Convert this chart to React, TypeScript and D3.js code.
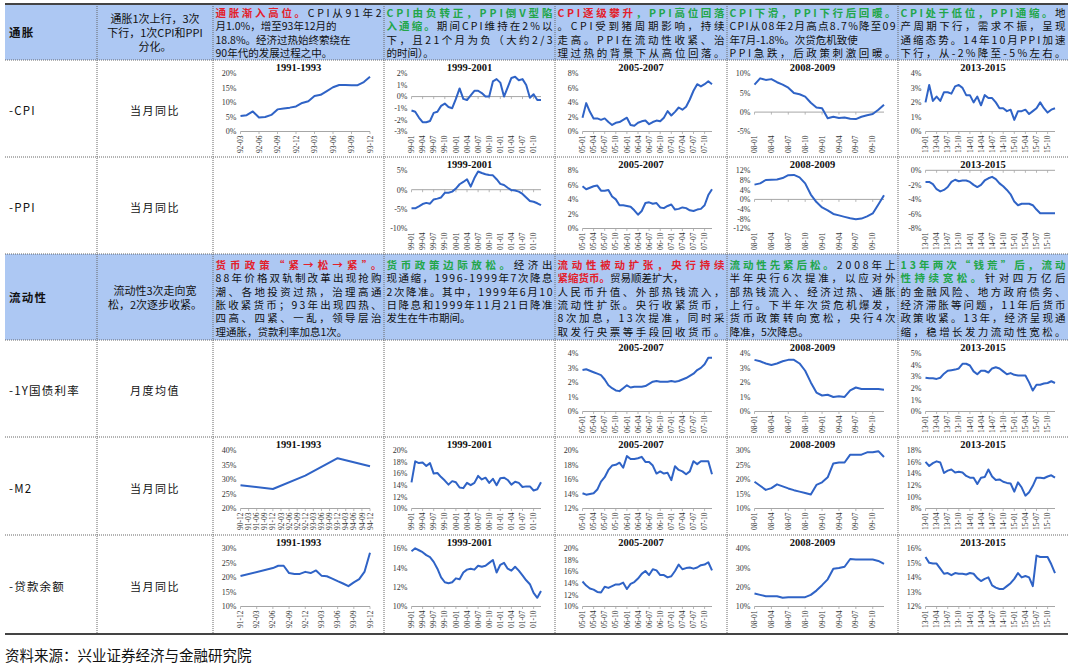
import React from "react";
import * as d3 from "d3";

const W = 1074, H = 666;
const COLS = [5, 97, 213, 384, 555, 727, 898, 1068];
const ROWS = [4, 60, 157, 254, 340, 437, 535, 634];
const BLUE = "#adc8f3";
const RED = "#e3202b";
const GRN = "#22a64a";
const BLK = "#111111";
const LINE = "#2f63c6";
const CJK = "'Noto Sans CJK SC', 'Noto Sans', sans-serif";
const SERIF = "'Liberation Serif', 'DejaVu Serif', serif";

const monthCats = (yy: number, mm: number, n: number, stepM = 1) => {
  const out: string[] = [];
  for (let i = 0; i < n; i++) {
    const t = yy * 12 + (mm - 1) + i * stepM;
    const y = Math.floor(t / 12) % 100, m = (t % 12) + 1;
    out.push(`${String(y).padStart(2, "0")}-${String(m).padStart(2, "0")}`);
  }
  return out;
};

// categories
const CAT_92 = monthCats(92, 3, 22);
const CAT_99 = monthCats(99, 1, 36);
const CAT_05 = monthCats(5, 1, 36);
const CAT_08 = monthCats(8, 1, 24);
const CAT_13 = monthCats(13, 1, 36);
const CAT_90Q = monthCats(90, 12, 17, 3);
const CAT_91 = monthCats(91, 12, 25);

// tick labels
const TK_92 = ["92-03", "92-06", "92-09", "92-12", "93-03", "93-06", "93-09", "93-12"];
const TK_99 = ["99-01", "99-04", "99-07", "99-10", "00-01", "00-04", "00-07", "00-10", "01-01", "01-04", "01-07", "01-10"];
const TK_05 = ["05-01", "05-04", "05-07", "05-10", "06-01", "06-04", "06-07", "06-10", "07-01", "07-04", "07-07", "07-10"];
const TK_08 = ["08-01", "08-04", "08-07", "08-10", "09-01", "09-04", "09-07", "09-10"];
const TK_13 = ["13-01", "13-04", "13-07", "13-10", "14-01", "14-04", "14-07", "14-10", "15-01", "15-04", "15-07", "15-10"];
const TK_90Q = ["90-12", "91-03", "91-06", "91-09", "91-12", "92-03", "92-06", "92-09", "92-12", "93-03", "93-06", "93-09", "93-12", "94-03", "94-06", "94-09", "94-12"];
const TK_91 = ["91-12", "92-03", "92-06", "92-09", "92-12", "93-03", "93-06", "93-09", "93-12"];

// CPI
const CPI_91 = [5.3, 5.6, 6.9, 4.8, 5.0, 5.7, 7.6, 7.9, 8.2, 8.6, 9.8, 10.4, 12.2, 12.6, 13.9, 15.2, 16.0, 16.0, 15.9, 15.9, 17.0, 18.8];
const CPI_99 = [-1.2, -1.3, -1.8, -2.2, -2.2, -2.1, -1.4, -1.3, -0.8, -0.6, -0.9, -1.0, -0.2, 0.7, -0.2, -0.3, 0.1, 0.5, 0.5, 0.3, 0.0, 0.0, 1.3, 1.5, 1.2, 0.0, 0.8, 1.6, 1.7, 1.4, 1.5, 1.0, -0.1, 0.2, -0.3, -0.3];
const CPI_05 = [1.9, 3.9, 2.7, 1.8, 1.8, 1.6, 1.8, 1.3, 0.9, 1.2, 1.3, 1.6, 1.9, 0.9, 0.8, 1.2, 1.4, 1.5, 1.0, 1.3, 1.5, 1.4, 1.9, 2.8, 2.2, 2.7, 3.3, 3.0, 3.4, 4.4, 5.6, 6.5, 6.2, 6.5, 6.9, 6.5];
const CPI_08 = [7.1, 8.7, 8.3, 8.5, 7.7, 7.1, 6.3, 4.9, 4.6, 4.0, 2.4, 1.2, 1.0, -1.6, -1.2, -1.5, -1.4, -1.7, -1.8, -1.2, -0.8, -0.5, 0.6, 1.9];
const CPI_13 = [2.0, 3.2, 2.1, 2.4, 2.1, 2.7, 2.7, 2.6, 3.1, 3.2, 3.0, 2.5, 2.5, 2.0, 2.4, 1.8, 2.5, 2.3, 2.3, 2.0, 1.6, 1.6, 1.4, 1.5, 0.8, 1.4, 1.4, 1.5, 1.2, 1.4, 1.6, 2.0, 1.6, 1.3, 1.5, 1.6];
// PPI
const PPI_99 = [-4.8, -4.8, -4.3, -3.7, -3.4, -3.6, -2.5, -2.3, -2.0, -0.8, -0.8, -0.5, 0.3, 1.4, 2.0, 2.7, 0.8, 3.0, 4.7, 4.3, 4.0, 3.8, 3.7, 2.7, 1.5, 1.2, 0.5, -0.1, -0.2, -0.5, -1.1, -2.0, -2.9, -3.1, -3.5, -4.0];
const PPI_05 = [5.8, 5.4, 5.6, 5.8, 5.9, 5.2, 5.2, 5.3, 4.4, 4.0, 3.2, 3.2, 3.1, 3.0, 2.5, 1.9, 2.4, 3.5, 3.6, 3.4, 3.5, 2.9, 2.8, 3.1, 3.3, 2.6, 2.7, 2.9, 2.8, 2.5, 2.4, 2.6, 2.7, 3.2, 4.6, 5.4];
const PPI_08 = [6.1, 6.6, 8.0, 8.1, 8.2, 8.8, 10.0, 10.1, 9.1, 6.6, 2.0, -1.1, -3.3, -4.5, -6.0, -6.6, -7.2, -7.8, -8.2, -7.9, -7.0, -5.8, -2.1, 1.7];
const PPI_13 = [-1.6, -1.6, -1.9, -2.6, -2.9, -2.7, -2.3, -1.6, -1.3, -1.5, -1.4, -1.4, -1.6, -2.0, -2.3, -2.0, -1.4, -1.1, -0.9, -1.2, -1.8, -2.2, -2.7, -3.3, -4.3, -4.8, -4.6, -4.6, -4.6, -4.8, -5.4, -5.9, -5.9, -5.9, -5.9, -5.9];
// 1Y treasury
const Y1_05 = [2.85, 2.9, 2.8, 2.7, 2.6, 2.5, 2.2, 1.8, 1.6, 1.45, 1.4, 1.6, 1.8, 1.65, 1.7, 1.7, 1.7, 1.75, 1.9, 2.05, 2.1, 2.05, 2.05, 2.05, 2.1, 2.05, 2.1, 2.2, 2.3, 2.45, 2.6, 2.85, 3.0, 3.25, 3.7, 3.7];
const Y1_08 = [3.55, 3.45, 3.3, 3.2, 3.3, 3.45, 3.55, 3.55, 3.3, 2.8, 2.0, 1.3, 1.1, 1.15, 1.0, 1.05, 1.0, 1.45, 1.65, 1.55, 1.55, 1.55, 1.55, 1.5];
const Y1_13 = [2.9, 2.85, 2.85, 2.8, 2.9, 3.25, 3.5, 3.55, 3.6, 3.7, 4.1, 4.1, 3.95, 3.45, 3.2, 3.5, 3.5, 3.35, 3.7, 3.8, 3.7, 3.45, 3.2, 3.3, 3.15, 3.1, 3.1, 3.1, 2.5, 1.8, 2.3, 2.3, 2.4, 2.45, 2.6, 2.45];
// M2
const M2_90 = [28.0, null, null, null, 26.7, null, null, null, 31.3, null, null, null, 37.3, null, null, null, 34.5];
const M2_99 = [14.5, 18.1, 17.8, 17.9, 17.3, 17.8, 16.0, 16.1, 15.4, 14.8, 14.1, 14.7, 14.5, 13.6, 13.5, 14.4, 14.0, 14.4, 15.6, 15.0, 15.3, 14.4, 15.1, 14.0, 15.2, 15.3, 14.9, 14.1, 14.6, 14.4, 13.7, 13.8, 13.8, 13.1, 13.3, 14.5];
const M2_05 = [14.1, 13.9, 14.0, 14.1, 14.6, 15.7, 16.3, 17.3, 17.9, 18.0, 18.3, 17.6, 19.2, 18.8, 18.8, 18.9, 19.1, 18.4, 18.4, 17.9, 16.8, 17.1, 16.8, 16.9, 15.9, 17.8, 17.3, 17.1, 16.7, 17.1, 18.5, 18.1, 18.5, 18.5, 18.5, 16.7];
const M2_08 = [19.2, 17.8, 16.4, 17.0, 18.3, 17.6, 16.9, 16.3, 15.8, 15.3, 14.8, 18.1, 19.0, 20.7, 25.5, 25.8, 25.8, 28.5, 28.5, 28.5, 29.3, 29.3, 29.7, 27.7];
const M2_13 = [16.0, 15.3, 15.8, 16.1, 15.9, 14.1, 14.5, 14.7, 14.2, 14.3, 14.2, 13.6, 13.3, 13.3, 12.2, 13.3, 13.4, 14.7, 13.5, 12.9, 13.0, 12.6, 12.4, 12.3, 10.9, 12.5, 11.6, 10.2, 10.8, 11.9, 13.3, 13.3, 13.2, 13.5, 13.7, 13.3];
// Loans
const LN_91 = [20.5, null, null, null, null, null, 23.2, 24.0, 24.0, 21.5, 21.2, 21.2, 21.9, 21.5, 22.4, 20.6, 20.4, 19.6, 18.7, 17.9, 17.0, 18.3, 19.4, 22.0, 28.5];
const LN_99 = [15.7, 16.0, 15.8, 15.6, 15.3, 15.1, 14.6, 13.9, 13.0, 12.5, 12.4, 12.5, 12.9, 12.8, 13.5, 13.8, 13.9, 13.8, 14.2, 14.1, 14.2, 14.5, 14.8, 13.5, 14.3, 14.5, 13.9, 13.7, 14.1, 13.7, 13.2, 12.7, 12.3, 11.4, 10.9, 11.6];
const LN_05 = [14.3, 13.6, 13.1, 12.9, 12.5, 12.4, 13.4, 13.2, 13.5, 13.8, 13.8, 14.1, 13.0, 13.9, 14.2, 14.8, 15.6, 16.1, 15.4, 16.4, 16.2, 15.4, 15.4, 15.0, 15.2, 16.1, 17.2, 16.4, 16.6, 16.7, 16.5, 16.7, 17.1, 17.2, 17.6, 16.2];
const LN_08 = [16.7, 16.0, 15.3, 15.3, 15.3, 14.5, 14.8, 14.8, 14.8, 14.8, 16.0, 18.2, 21.0, 24.0, 29.5, 29.8, 30.5, 34.5, 34.2, 34.2, 34.2, 34.2, 33.5, 32.0];
const LN_13 = [15.4, 15.0, 14.95, 14.95, 14.6, 14.25, 14.3, 14.15, 14.3, 14.25, 14.25, 14.2, 14.3, 14.25, 13.95, 13.75, 13.9, 14.0, 13.45, 13.3, 13.2, 13.2, 13.4, 13.6, 13.9, 14.3, 14.0, 14.1, 14.0, 13.4, 15.5, 15.4, 15.4, 15.4, 14.9, 14.3];

type Spec = { r: number; c: number; title: string; cats: string[]; ticks: string[]; vals: (number | null)[]; min: number; max: number; step: number };
const T91 = "1991-1993", T99 = "1999-2001", T05 = "2005-2007", T08 = "2008-2009", T13 = "2013-2015";
const SPECS: Spec[] = [
  { r: 1, c: 2, title: T91, cats: CAT_92, ticks: TK_92, vals: CPI_91, min: 0, max: 20, step: 5 },
  { r: 1, c: 3, title: T99, cats: CAT_99, ticks: TK_99, vals: CPI_99, min: -3, max: 2, step: 1 },
  { r: 1, c: 4, title: T05, cats: CAT_05, ticks: TK_05, vals: CPI_05, min: 0, max: 8, step: 2 },
  { r: 1, c: 5, title: T08, cats: CAT_08, ticks: TK_08, vals: CPI_08, min: -5, max: 10, step: 5 },
  { r: 1, c: 6, title: T13, cats: CAT_13, ticks: TK_13, vals: CPI_13, min: 0, max: 4, step: 1 },
  { r: 2, c: 3, title: T99, cats: CAT_99, ticks: TK_99, vals: PPI_99, min: -10, max: 5, step: 5 },
  { r: 2, c: 4, title: T05, cats: CAT_05, ticks: TK_05, vals: PPI_05, min: 0, max: 8, step: 2 },
  { r: 2, c: 5, title: T08, cats: CAT_08, ticks: TK_08, vals: PPI_08, min: -12, max: 12, step: 4 },
  { r: 2, c: 6, title: T13, cats: CAT_13, ticks: TK_13, vals: PPI_13, min: -8, max: 0, step: 2 },
  { r: 4, c: 4, title: T05, cats: CAT_05, ticks: TK_05, vals: Y1_05, min: 0, max: 4, step: 1 },
  { r: 4, c: 5, title: T08, cats: CAT_08, ticks: TK_08, vals: Y1_08, min: 0, max: 4, step: 1 },
  { r: 4, c: 6, title: T13, cats: CAT_13, ticks: TK_13, vals: Y1_13, min: 0, max: 5, step: 1 },
  { r: 5, c: 2, title: T91, cats: CAT_90Q, ticks: TK_90Q, vals: M2_90, min: 20, max: 40, step: 5 },
  { r: 5, c: 3, title: T99, cats: CAT_99, ticks: TK_99, vals: M2_99, min: 10, max: 20, step: 2 },
  { r: 5, c: 4, title: T05, cats: CAT_05, ticks: TK_05, vals: M2_05, min: 12, max: 20, step: 2 },
  { r: 5, c: 5, title: T08, cats: CAT_08, ticks: TK_08, vals: M2_08, min: 10, max: 30, step: 5 },
  { r: 5, c: 6, title: T13, cats: CAT_13, ticks: TK_13, vals: M2_13, min: 8, max: 18, step: 2 },
  { r: 6, c: 2, title: T91, cats: CAT_91, ticks: TK_91, vals: LN_91, min: 10, max: 30, step: 5 },
  { r: 6, c: 3, title: T99, cats: CAT_99, ticks: TK_99, vals: LN_99, min: 10, max: 16, step: 2 },
  { r: 6, c: 4, title: T05, cats: CAT_05, ticks: TK_05, vals: LN_05, min: 10, max: 20, step: 2 },
  { r: 6, c: 5, title: T08, cats: CAT_08, ticks: TK_08, vals: LN_08, min: 10, max: 40, step: 10 },
  { r: 6, c: 6, title: T13, cats: CAT_13, ticks: TK_13, vals: LN_13, min: 12, max: 16, step: 1 },
];

// text cells
type Seg = [string, string, boolean?];
type Line = { fill: boolean; segs: Seg[] };
const L = (fill: boolean, ...segs: Seg[]): Line => ({ fill, segs });
const r = (t: string): Seg => [t, RED, true];
const g = (t: string): Seg => [t, GRN, true];
const k = (t: string): Seg => [t, BLK];

const HEAD_CELLS: { c: number; lines: Line[] }[] = [
  { c: 2, lines: [L(true, r("通胀渐入高位。"), k("CPI从91年2")), L(false, k("月1.0%，增至93年12月的")), L(false, k("18.8%。经济过热始终萦绕在")), L(false, k("90年代的发展过程之中。"))] },
  { c: 3, lines: [L(true, g("CPI由负转正，PPI倒V型陷")), L(true, g("入通缩。"), k("期间CPI维持在2%以")), L(true, k("下，且21个月为负（大约2/3")), L(false, k("的时间）。"))] },
  { c: 4, lines: [L(true, r("CPI逐级攀升"), g("，PPI高位回落")), L(true, k("。CPI受到猪周期影响，持续")), L(true, k("走高。PPI在流动性收紧、治")), L(true, k("理过热的背景下从高位回落。"))] },
  { c: 5, lines: [L(true, g("CPI下滑，PPI下行后回暖。")), L(true, k("CPI从08年2月高点8.7%降至09")), L(false, k("年7月-1.8%。次贷危机致使")), L(true, k("PPI急跌，后政策刺激回暖。"))] },
  { c: 6, lines: [L(true, g("CPI处于低位，PPI通缩。"), k("地")), L(true, k("产周期下行，需求不振，呈现")), L(true, k("通缩态势。14年10月PPI加速")), L(true, k("下行，从-2%降至-5%左右。"))] },
];
const LIQ_CELLS: { c: number; lines: Line[] }[] = [
  { c: 2, lines: [L(true, r("货币政策“紧→松→紧”。")), L(true, k("88年价格双轨制改革出现抢购")), L(true, k("潮、各地投资过热，治理高通")), L(true, k("胀收紧货币；93年出现四热、")), L(true, k("四高、四紧、一乱，领导层治")), L(false, k("理通胀，贷款利率加息1次。"))] },
  { c: 3, lines: [L(true, g("货币政策边际放松。"), k("经济出")), L(true, k("现通缩，1996-1999年7次降息")), L(true, k("2次降准。其中，1999年6月10")), L(true, k("日降息和1999年11月21日降准")), L(false, k("发生在牛市期间。"))] },
  { c: 4, lines: [L(true, r("流动性被动扩张，央行持续")), L(false, r("紧缩货币。"), k("贸易顺差扩大，")), L(true, k("人民币升值、外部热钱流入，")), L(true, k("流动性扩张。央行收紧货币，")), L(true, k("8次加息，13次提准，同时采")), L(true, k("取发行央票等手段回收货币。"))] },
  { c: 5, lines: [L(true, g("流动性先紧后松。"), k("2008年上")), L(true, k("半年央行6次提准，以应对外")), L(true, k("部热钱流入、经济过热、通胀")), L(true, k("上行。下半年次贷危机爆发，")), L(true, k("货币政策转向宽松，央行4次")), L(false, k("降准，5次降息。"))] },
  { c: 6, lines: [L(true, g("13年两次“钱荒”后，流动")), L(true, g("性持续宽松。"), k("针对四万亿后")), L(true, k("的金融风险、地方政府债务、")), L(true, k("经济滞胀等问题，11年后货币")), L(true, k("政策收紧。13年，经济呈现通")), L(true, k("缩，稳增长发力流动性宽松。"))] },
];

const ROW_LABELS = ["通胀", "-CPI", "-PPI", "流动性", "-1Y国债利率", "-M2", "-贷款余额"];
const ROW_SUBS: string[][] = [
  ["通胀1次上行，3次", "下行，1次CPI和PPI", "分化。"],
  ["当月同比"], ["当月同比"],
  ["流动性3次走向宽", "松，2次逐步收紧。"],
  ["月度均值"], ["当月同比"], ["当月同比"],
];
const SOURCE = "资料来源：兴业证券经济与金融研究院";

function TextBlock({ c, lines, top, lh }: { c: number; lines: Line[]; top: number; lh: number }) {
  const x0 = COLS[c] + 2.5;
  const w = COLS[c + 1] - COLS[c] - 5;
  return (
    <g>
      {lines.map((ln, i) => (
        <text key={i} x={x0} y={top + i * lh} fontFamily={CJK} fontSize={10.5}
          {...(ln.fill ? { textLength: w, lengthAdjust: "spacing" } : {})}>
          {ln.segs.map((s, j) => (
            <tspan key={j} fill={s[1]} fontWeight={s[2] ? 700 : 400}>{s[0]}</tspan>
          ))}
        </text>
      ))}
    </g>
  );
}

function MiniChart({ s }: { s: Spec }) {
  const cx0 = COLS[s.c], cx1 = COLS[s.c + 1];
  const T = ROWS[s.r];
  const pl = cx0 + 27.5, pr = cx0 + 157;
  const pt = T + 13.3, pb = T + 71.5;
  const xs = d3.scalePoint<string>().domain(s.cats).range([pl, pr]);
  const ys = d3.scaleLinear().domain([s.min, s.max]).range([pb, pt]);
  const yt = d3.range(s.min, s.max + s.step / 2, s.step);
  const axisY = s.min < 0 && s.max >= 0 ? ys(0) : ys(s.min);
  const pts = s.vals
    .map((v, i) => [v, s.cats[i]] as [number | null, string])
    .filter((d) => d[0] !== null)
    .map((d) => [xs(d[1]) as number, ys(d[0] as number)] as [number, number]);
  const path = d3.line()(pts) || "";
  return (
    <g>
      <text x={(cx0 + cx1) / 2} y={T + 11} textAnchor="middle" fontFamily={SERIF} fontWeight={700} fontSize={10.5} fill="#111">{s.title}</text>
      {yt.map((v) => (
        <text key={v} x={pl - 4} y={ys(v) + 2.8} textAnchor="end" fontFamily={SERIF} fontSize={8} fill="#333">{`${v}%`}</text>
      ))}
      <line x1={pl} x2={pr} y1={axisY} y2={axisY} stroke="#a6a6a6" strokeWidth={1} />
      {s.ticks.map((t) => (
        <line key={"k" + t} x1={xs(t)} x2={xs(t)} y1={axisY} y2={axisY + 2.5} stroke="#a6a6a6" strokeWidth={0.8} />
      ))}
      {s.ticks.map((t) => (
        <text key={t} transform={`translate(${(xs(t) as number) + 2.6},${pb + 4}) rotate(-90)`} textAnchor="end"
          fontFamily={SERIF} fontSize={7.5} fill="#333">{t}</text>
      ))}
      <path d={path} fill="none" stroke={LINE} strokeWidth={2} strokeLinejoin="round" />
    </g>
  );
}

export default function App() {
  const labelY = [33, 111, 208, 298, 391, 489, 587];
  return (
    <svg width={W} height={H} style={{ position: "absolute", left: 0, top: 0, background: "#fff" }}>
      <rect x={0} y={0} width={W} height={H} fill="#fff" />
      <rect x={COLS[0]} y={ROWS[0]} width={COLS[7] - COLS[0]} height={ROWS[1] - ROWS[0]} fill={BLUE} />
      <rect x={COLS[0]} y={ROWS[3]} width={COLS[7] - COLS[0]} height={ROWS[4] - ROWS[3]} fill={BLUE} />
      {COLS.slice(1, 7).map((x) => (
        <line key={"v" + x} x1={x} x2={x} y1={ROWS[0]} y2={ROWS[7]} stroke="#666" strokeWidth={1} strokeDasharray="1,1" />
      ))}
      {ROWS.slice(1, 7).map((y) => (
        <line key={"h" + y} x1={COLS[0]} x2={COLS[7]} y1={y} y2={y} stroke="#666" strokeWidth={1} strokeDasharray="1,1" />
      ))}
      <line x1={COLS[0]} x2={COLS[7]} y1={ROWS[0]} y2={ROWS[0]} stroke="#444" strokeWidth={2} />
      <line x1={COLS[0]} x2={COLS[7]} y1={ROWS[7]} y2={ROWS[7]} stroke="#444" strokeWidth={2} />

      {ROW_LABELS.map((t, i) => (
        <text key={t} x={COLS[0] + 4} y={labelY[i] + 4} fontFamily={CJK} fontSize={11.5} letterSpacing={1.2}
          fontWeight={i === 0 || i === 3 ? 700 : 400} fill="#111">{t}</text>
      ))}
      {ROW_SUBS.map((lines, i) => {
        const lh = 14;
        const y0 = labelY[i] - ((lines.length - 1) * lh) / 2 + 4;
        return lines.map((t, j) => (
          <text key={i + "-" + j} x={(COLS[1] + COLS[2]) / 2} y={y0 + j * lh} textAnchor="middle" fontFamily={CJK}
            fontSize={11} letterSpacing={lines.length === 1 ? 1.5 : 0} fill="#111">{t}</text>
        ));
      })}

      {HEAD_CELLS.map((cell) => (
        <TextBlock key={"h" + cell.c} c={cell.c} lines={cell.lines} top={16.5} lh={13.5} />
      ))}
      {LIQ_CELLS.map((cell) => (
        <TextBlock key={"l" + cell.c} c={cell.c} lines={cell.lines} top={268.8} lh={13.4} />
      ))}

      {SPECS.map((s, i) => (
        <MiniChart key={i} s={s} />
      ))}

      <text x={5} y={661} fontFamily={CJK} fontSize={14.5} fill="#111">{SOURCE}</text>
    </svg>
  );
}
